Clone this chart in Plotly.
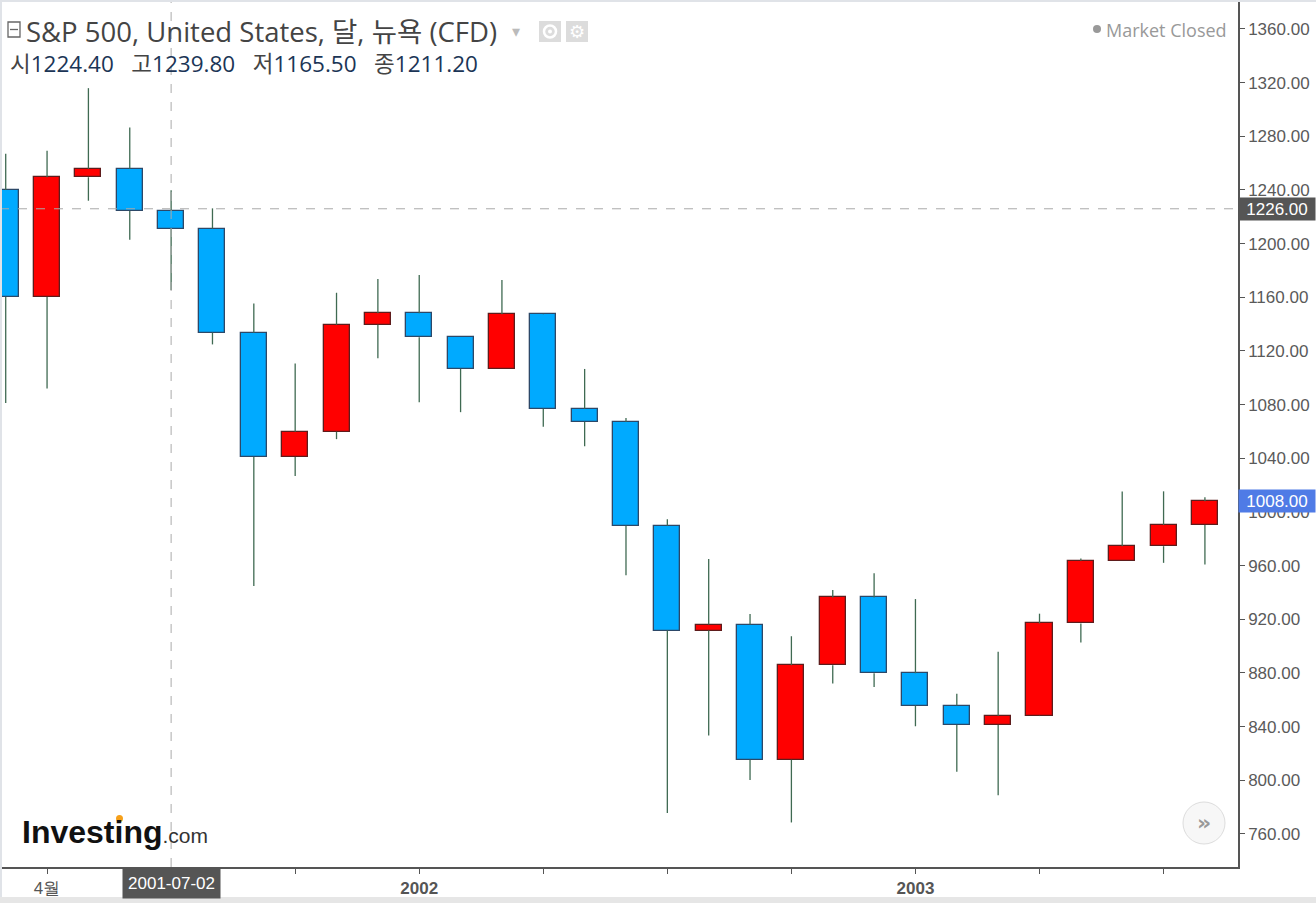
import plotly.graph_objects as go

# ---------------- data ----------------
months = ["2001-03", "2001-04", "2001-05", "2001-06", "2001-07", "2001-08", "2001-09",
          "2001-10", "2001-11", "2001-12", "2002-01", "2002-02", "2002-03", "2002-04",
          "2002-05", "2002-06", "2002-07", "2002-08", "2002-09", "2002-10", "2002-11",
          "2002-12", "2003-01", "2003-02", "2003-03", "2003-04", "2003-05", "2003-06",
          "2003-07", "2003-08"]
open_ = [1239.9, 1160.3, 1249.5, 1255.8, 1224.4, 1211.2, 1133.6, 1040.9, 1059.8, 1139.5,
         1148.1, 1130.2, 1106.7, 1147.4, 1076.9, 1067.1, 989.8, 911.6, 916.1, 815.3,
         885.8, 936.3, 879.8, 855.7, 841.2, 848.2, 916.9, 963.6, 974.5, 990.3]
high = [1267.0, 1269.3, 1315.9, 1286.6, 1239.8, 1226.3, 1155.4, 1110.6, 1163.4, 1173.6,
        1176.6, 1130.2, 1173.0, 1147.8, 1106.6, 1070.0, 994.5, 965.0, 924.0, 907.4,
        941.8, 954.3, 935.1, 864.6, 895.9, 924.2, 965.4, 1015.3, 1015.4, 1011.0]
low = [1081.2, 1092.0, 1232.0, 1203.0, 1165.5, 1124.9, 944.8, 1026.8, 1054.3, 1114.5,
       1081.7, 1074.4, 1106.7, 1063.5, 1049.0, 952.9, 775.7, 833.4, 800.2, 768.6,
       872.1, 869.5, 840.3, 806.3, 788.9, 847.9, 902.8, 963.6, 962.1, 960.8]
close = [1160.3, 1249.5, 1255.8, 1224.4, 1211.2, 1133.6, 1040.9, 1059.8, 1139.5, 1148.1,
         1130.2, 1106.7, 1147.4, 1076.9, 1067.1, 989.8, 911.6, 916.1, 815.3, 885.8,
         936.3, 879.8, 855.7, 841.2, 848.2, 916.9, 963.6, 974.5, 990.3, 1008.0]

x_tick_index = [1, 4, 7, 10, 13, 16, 19, 22, 25, 28]
x_tick_text = ["4월", "", "", "<b>2002</b>", "", "", "", "<b>2003</b>", "", ""]
y_ticks = [760, 800, 840, 880, 920, 960, 1000, 1040, 1080, 1120, 1160, 1200, 1240, 1280, 1320, 1360]

cross_index = 4          # 2001-07
cross_label = "2001-07-02"
cross_price = 1226.0

# ---------------- layout helpers ----------------
W, H = 1316, 903
PL, PR, PT, PB = 0, 78, 0, 36
plot_w = W - PL - PR
plot_h = H - PT - PB


def px(x):
    return (x - PL) / plot_w


def py(y):
    return (PT + plot_h - y) / plot_h


UP_FILL, UP_LINE = "#ff0000", "#5e1c1c"
DN_FILL, DN_LINE = "#00aaff", "#2c4868"
WICK = "#3f6a52"

xs = list(range(len(months)))

# wicks: drawn outside of the bodies (bars render beneath scatter traces)
wx, wy = [], []
for i in xs:
    top = max(open_[i], close[i])
    bot = min(open_[i], close[i])
    wx += [i, i, None, i, i, None]
    wy += [low[i], bot, None, top, high[i], None]

fig = go.Figure()
fig.add_trace(go.Bar(
    x=xs, y=[c - o for o, c in zip(open_, close)], base=open_, width=0.63,
    marker=dict(color=[UP_FILL if c >= o else DN_FILL for o, c in zip(open_, close)],
                line=dict(color=[UP_LINE if c >= o else DN_LINE for o, c in zip(open_, close)],
                          width=1.3)),
    hoverinfo="skip", showlegend=False))
fig.add_trace(go.Scatter(x=wx, y=wy, mode="lines", line=dict(color=WICK, width=1.3),
                         hoverinfo="skip", showlegend=False))

fig.update_layout(
    width=W, height=H,
    margin=dict(l=PL, r=PR, t=PT, b=PB, pad=0),
    paper_bgcolor="white", plot_bgcolor="white",
    hovermode=False, bargap=0,
    font=dict(family="Liberation Sans, Arial, sans-serif", color="#555555"),
)
fig.update_xaxes(
    range=[-0.138, 29.80], showgrid=False, zeroline=False,
    showline=True, linecolor="#555555", linewidth=1.5,
    ticks="outside", ticklen=5, tickcolor="#555555", tickwidth=1,
    tickvals=x_tick_index, ticktext=x_tick_text,
    tickfont=dict(size=17, color="#555555"),
)
fig.update_yaxes(
    range=[735.4, 1381.6], side="right", showgrid=False, zeroline=False,
    showline=True, linecolor="#555555", linewidth=1.5,
    ticks="outside", ticklen=5, tickcolor="#555555", tickwidth=1,
    tickvals=y_ticks, tickformat=".2f",
    tickfont=dict(size=17, color="#5a5a5a"),
)

shapes = []
# crosshair
shapes.append(dict(type="line", xref="x", yref="paper", x0=cross_index, x1=cross_index,
                   y0=0, y1=1, line=dict(color="#aaaaaa", width=1, dash="dash")))
shapes.append(dict(type="line", xref="paper", yref="y", x0=0, x1=1,
                   y0=cross_price, y1=cross_price, line=dict(color="#aaaaaa", width=1, dash="dash")))
# frame borders
shapes.append(dict(type="rect", xref="paper", yref="paper", x0=px(0), x1=px(W), y0=py(2), y1=py(0),
                   fillcolor="#e0e3e8", line=dict(width=0), layer="above"))
shapes.append(dict(type="rect", xref="paper", yref="paper", x0=px(0), x1=px(2), y0=py(H), y1=py(0),
                   fillcolor="#e0e3e8", line=dict(width=0), layer="above"))
shapes.append(dict(type="rect", xref="paper", yref="paper", x0=px(0), x1=px(W), y0=py(H), y1=py(897),
                   fillcolor="#e6e6e6", line=dict(width=0), layer="above"))
# title icon (collapse box)
shapes.append(dict(type="rect", xref="paper", yref="paper", x0=px(8), x1=px(20), y0=py(37), y1=py(22),
                   line=dict(color="#666666", width=1.3), fillcolor="white"))
shapes.append(dict(type="line", xref="paper", yref="paper", x0=px(10), x1=px(18), y0=py(29.5), y1=py(29.5),
                   line=dict(color="#666666", width=1.3)))
# eye / gear buttons
shapes.append(dict(type="rect", xref="paper", yref="paper", x0=px(539), x1=px(561), y0=py(42), y1=py(21),
                   fillcolor="#dcdcdc", line=dict(width=0)))
shapes.append(dict(type="rect", xref="paper", yref="paper", x0=px(566), x1=px(588), y0=py(42), y1=py(21),
                   fillcolor="#dcdcdc", line=dict(width=0)))
shapes.append(dict(type="circle", xref="paper", yref="paper", x0=px(544), x1=px(556), y0=py(37.5), y1=py(25.5),
                   line=dict(color="white", width=2.5), fillcolor="#dcdcdc"))
shapes.append(dict(type="circle", xref="paper", yref="paper", x0=px(548), x1=px(552), y0=py(33.5), y1=py(29.5),
                   line=dict(width=0), fillcolor="white"))
# market-closed dot
shapes.append(dict(type="circle", xref="paper", yref="paper", x0=px(1093), x1=px(1101), y0=py(33), y1=py(25),
                   fillcolor="#999999", line=dict(width=0)))
# scroll button
shapes.append(dict(type="circle", xref="paper", yref="paper", x0=px(1183), x1=px(1225), y0=py(844), y1=py(802),
                   fillcolor="#f7f7f7", line=dict(color="#dddddd", width=1)))
# logo dot
shapes.append(dict(type="circle", xref="paper", yref="paper", x0=px(116), x1=px(123), y0=py(822), y1=py(815),
                   fillcolor="#f6a01a", line=dict(width=0)))
fig.update_layout(shapes=shapes)

ann = []
ann.append(dict(xref="paper", yref="paper", x=px(24), y=py(31), xanchor="left", yanchor="middle",
                text="S&P 500, United States, 달, 뉴욕 (CFD)", showarrow=False,
                font=dict(family="Open Sans, Noto Sans CJK KR, sans-serif", size=27.5, color="#444444")))
ann.append(dict(xref="paper", yref="paper", x=px(510), y=py(31), xanchor="left", yanchor="middle",
                text="▾", showarrow=False, font=dict(size=16, color="#bbbbbb")))
ann.append(dict(xref="paper", yref="paper", x=px(577), y=py(31), xanchor="center", yanchor="middle",
                text="⚙", showarrow=False, font=dict(family="DejaVu Sans", size=18, color="white")))

val_color = "#1b3556"
lab_color = "#444444"
sp = "\u00a0\u00a0\u00a0"
ohlc_line = (
    f"<span style='color:{lab_color}'>시</span><span style='color:{val_color}'>{open_[cross_index]:.2f}</span>"
    f"{sp}<span style='color:{lab_color}'>고</span><span style='color:{val_color}'>{high[cross_index]:.2f}</span>"
    f"{sp}<span style='color:{lab_color}'>저</span><span style='color:{val_color}'>{low[cross_index]:.2f}</span>"
    f"{sp}<span style='color:{lab_color}'>종</span><span style='color:{val_color}'>{close[cross_index]:.2f}</span>"
)
ann.append(dict(xref="paper", yref="paper", x=px(8), y=py(64), xanchor="left", yanchor="middle",
                text=ohlc_line, showarrow=False,
                font=dict(family="Open Sans, Noto Sans CJK KR, sans-serif", size=22.5, color=val_color)))
ann.append(dict(xref="paper", yref="paper", x=px(1229), y=py(30), xanchor="right", yanchor="middle",
                text="Market Closed", showarrow=False,
                font=dict(family="Open Sans, sans-serif", size=18, color="#999999")))
# price labels
ann.append(dict(xref="paper", yref="y", x=1, y=cross_price, xanchor="left", yanchor="middle",
                text=f"{cross_price:.2f}", showarrow=False, bgcolor="#555555", width=74, height=20,
                align="center", font=dict(size=17, color="white"), borderpad=1))
ann.append(dict(xref="paper", yref="y", x=1, y=close[-1], xanchor="left", yanchor="middle",
                text=f"{close[-1]:.2f}", showarrow=False, bgcolor="#4f7be6", width=74, height=20,
                align="center", font=dict(size=17, color="white"), borderpad=1))
ann.append(dict(xref="x", yref="paper", x=cross_index, y=py(868), xanchor="center", yanchor="top",
                text=cross_label, showarrow=False, bgcolor="#555555", width=95, height=27,
                font=dict(size=17, color="white"), borderpad=1))
# logo
ann.append(dict(xref="paper", yref="paper", x=px(20), y=py(832), xanchor="left", yanchor="middle",
                text="<b>Investing</b><span style='font-size:21px;color:#333333'>.com</span>",
                showarrow=False, font=dict(family="Liberation Sans, Arial", size=32, color="#111111")))
ann.append(dict(xref="paper", yref="paper", x=px(1204), y=py(822), xanchor="center", yanchor="middle",
                text="<b>»</b>", showarrow=False, font=dict(family="DejaVu Sans", size=22, color="#999999")))
fig.update_layout(annotations=ann)

fig.write_html("out.html", config={"displayModeBar": False},
               post_script="document.body.style.margin='0';document.body.style.overflow='hidden';")
